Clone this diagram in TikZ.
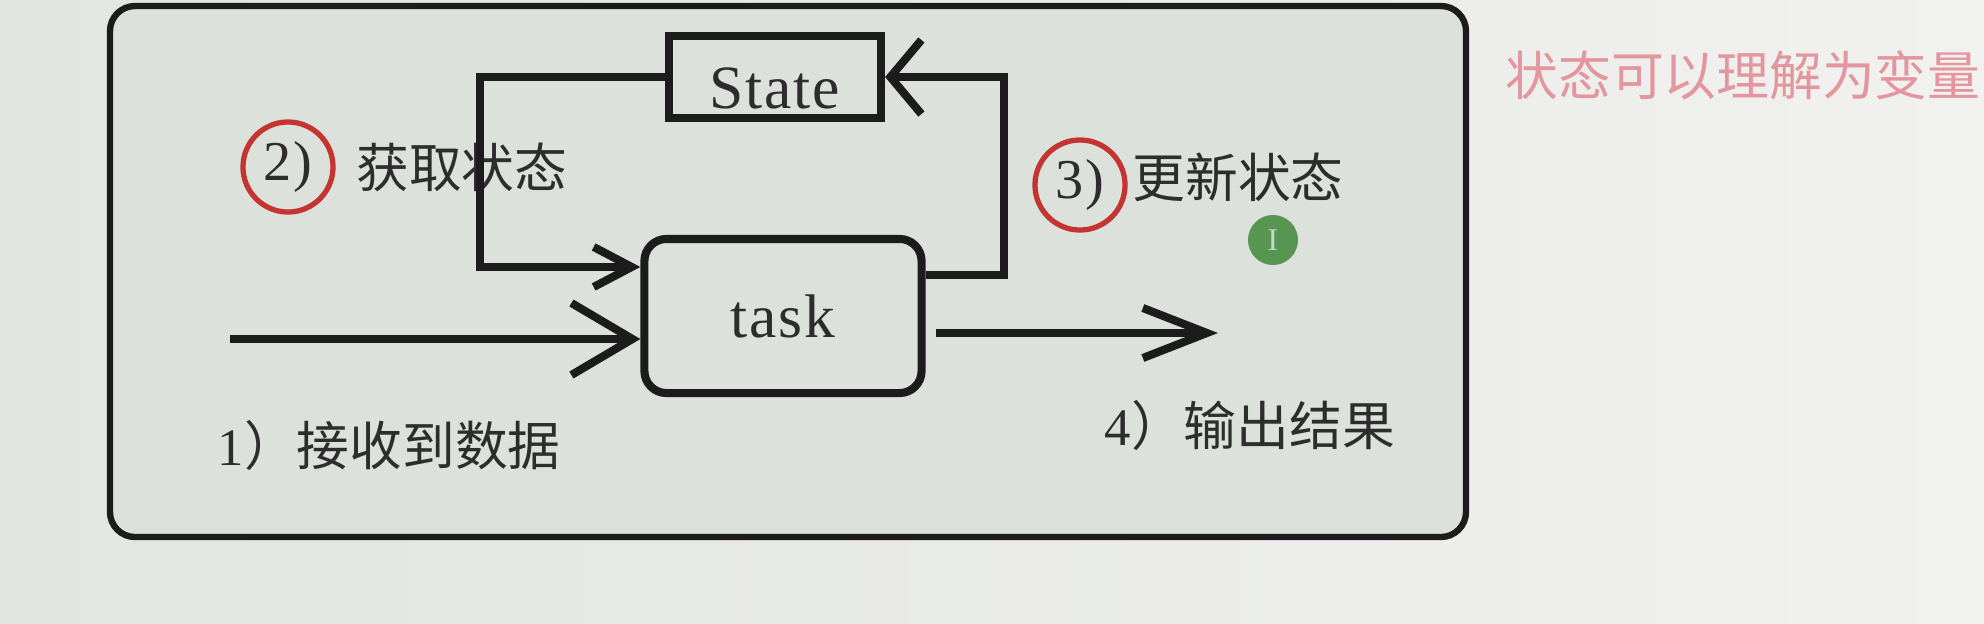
\documentclass[tikz,border=0pt]{standalone}
\usepackage{fontspec}
\newfontfamily\cjkfont{Noto Sans CJK SC}
\newfontfamily\latinfont[LetterSpace=3]{Liberation Serif}
\usepackage{xcolor}
\usetikzlibrary{
  positioning,
  arrows.meta,
  calc
}
\definecolor{InkBlack}{RGB}{28,28,28}
\definecolor{TextGrey}{RGB}{45,45,45}
\definecolor{PanelGrey}{RGB}{221,225,219}
\definecolor{PaperLeft}{RGB}{226,229,225}
\definecolor{PaperRight}{RGB}{241,241,240}
\definecolor{RingRed}{RGB}{196,52,48}
\definecolor{NoteRed}{RGB}{228,150,158}
\definecolor{DotGreen}{RGB}{86,150,82}
\definecolor{DotText}{RGB}{200,214,198}

\begin{document}
\begin{tikzpicture}[
  x=0.01cm, y=-0.01cm,
  font=\fontsize{15pt}{18pt}\selectfont\cjkfont,
  frame/.style={
    draw=InkBlack,
    fill=PanelGrey,
    line width=1.8pt,
    rounded corners=0.25cm,
  },
  stbox/.style={
    draw=InkBlack,
    line width=2.3pt,
    inner sep=0pt,
    minimum width=2.12cm,
    minimum height=0.82cm,
    font=\fontsize{17.5pt}{20pt}\selectfont\latinfont,
    text=TextGrey,
  },
  taskbox/.style={
    stbox,
    rounded corners=0.22cm,
    minimum width=2.77cm,
    minimum height=1.54cm,
  },
  ring/.style={
    circle,
    draw=RingRed,
    line width=1.5pt,
    minimum size=0.9cm,
    inner sep=0pt,
    font=\fontsize{16pt}{18pt}\selectfont\latinfont,
    text=TextGrey,
  },
  link/.style={draw=InkBlack, line width=2.3pt},
  lab/.style={inner sep=0pt, text=TextGrey},
  note/.style={inner sep=0pt, text=NoteRed},
]
  % -------- 底色与外框 --------
  \useasboundingbox (0,0) rectangle (1984,624);
  \shade[left color=PaperLeft, right color=PaperRight] (0,0) rectangle (1984,624);
  \draw[frame] (110,6) rectangle (1466,537);

  % -------- 两个方框 --------
  \node[stbox, text height=0.62cm, text depth=0cm] (State) at (775,77) {State};
  \node[taskbox] (task) at (783,316) {task};

  % -------- 步骤标注 --------
  \node[ring] (R2) at (288,167) {2)};
  \node[lab, right=2mm of R2] (L2) {获取状态};
  \node[ring] (R3) at (1080,185) {3)};
  \node[lab, anchor=west] (L3) at (1132,177) {更新状态};
  \node[lab, anchor=west] (L1) at (217,445) {{\latinfont 1}）接收到数据};
  \node[lab, anchor=west] (L4) at (1104,425) {{\latinfont 4}）输出结果};

  % 右侧红字批注与光标点
  \node[note] (Hint) at (1743,75) {状态可以理解为变量};
  \node[circle, fill=DotGreen, minimum size=0.5cm, inner sep=0pt,
        text=DotText, font=\fontsize{9pt}{9pt}\selectfont\latinfont] (Cursor) at (1273,240) {I};

  % -------- 连线 --------
  \coordinate (src) at (230,339);
  \coordinate (sink) at (1218,333);
  \draw[link, -{Straight Barb[length=6.1mm, width=7.2mm]}] (src) -- (src -| task.west);
  \draw[link, -{Straight Barb[length=6.4mm, width=5mm]}] ([xshift=1mm]sink -| task.east) -- (sink);
  % 取状态：State 左侧绕下进入 task
  \draw[link, -{Straight Barb[length=3.8mm, width=4mm]}]
    (State.west) -- ++(-1.85cm,0) |- ([yshift=4.9mm]task.west);
  % 更新状态：task 右侧绕上回到 State
  \draw[link, -{Straight Barb[length=3.1mm, width=7.4mm]}]
    ([yshift=4.1mm]task.east) -- ++(0.78cm,0) |- (State.east);
\end{tikzpicture}
\end{document}
